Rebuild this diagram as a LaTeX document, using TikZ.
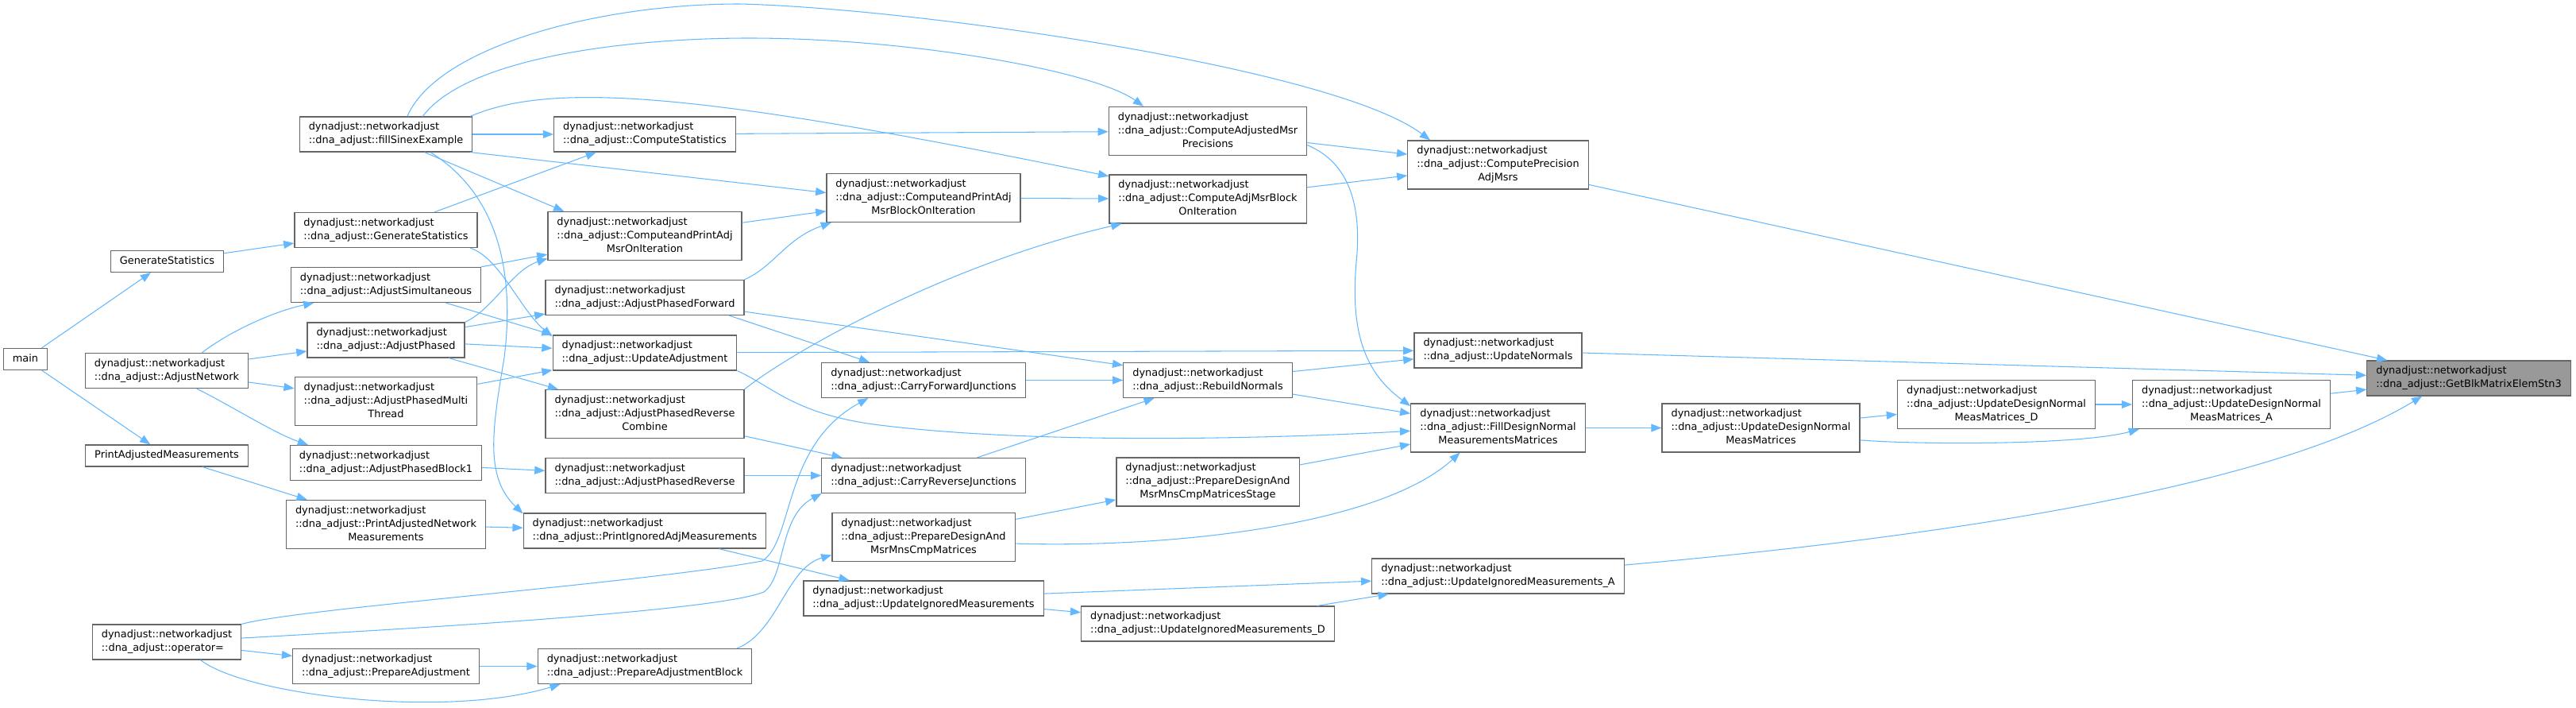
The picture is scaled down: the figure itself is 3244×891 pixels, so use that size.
\documentclass[tikz,border=0pt]{standalone}
\usepackage{fontspec}
\setmainfont{DejaVu Sans}
\usetikzlibrary{arrows.meta}
\definecolor{edgeblue}{RGB}{99,184,255}
\definecolor{boxgray}{RGB}{102,102,102}
\definecolor{maingray}{RGB}{153,153,153}
\newcommand{\fn}[1]{\begin{tabular}{@{}l@{}}#1\end{tabular}}
\newcommand{\lc}[1]{\multicolumn{1}{@{}c@{}}{#1}}
\newcommand{\dn}{dynadjust::networkadjust\\::dna\_adjust::}

\begin{document}
\begin{tikzpicture}[x=0.02cm, y=-0.02cm,
  fnbox/.style={draw=boxgray, fill=white, line width=0.7pt, inner xsep=0.23cm, inner ysep=0.1cm, font=\fontsize{7.35}{9.67}\selectfont},
  fnmain/.style={fnbox, fill=maingray},
  callarrow/.style={draw=edgeblue, line width=0.6pt, -{Triangle[length=7.5pt, width=5.7pt]}}
]
  \useasboundingbox (0,0) rectangle (3244,891);

  % callers, left to right
  \node[fnbox] (main) at (32,452) {\fn{main}};
  \node[fnbox] (genstat) at (210.5,329) {\fn{GenerateStatistics}};
  \node[fnbox] (adjnet) at (210,466.5) {\fn{\dn AdjustNetwork}};
  \node[fnbox] (printadj) at (210,573.5) {\fn{PrintAdjustedMeasurements}};
  \node[fnbox] (opeq) at (210,808) {\fn{\dn operator=}};

  \node[fnbox] (fillsinex) at (486,169) {\fn{\dn fillSinexExample}};
  \node[fnbox] (dnagenstat) at (486,289.5) {\fn{\dn GenerateStatistics}};
  \node[fnbox] (adjsim) at (486,358.5) {\fn{\dn AdjustSimultaneous}};
  \node[fnbox] (adjphased) at (486,428) {\fn{\dn AdjustPhased}};
  \node[fnbox] (adjmulti) at (486,505) {\fn{\dn AdjustPhasedMulti\\\lc{Thread}}};
  \node[fnbox] (adjblock1) at (486,582.5) {\fn{\dn AdjustPhasedBlock1}};
  \node[fnbox] (printnet) at (486,660) {\fn{\dn PrintAdjustedNetwork\\\lc{Measurements}}};
  \node[fnbox] (prepadj) at (486,838.5) {\fn{\dn PrepareAdjustment}};

  \node[fnbox] (compstat) at (812,169) {\fn{\dn ComputeStatistics}};
  \node[fnbox] (cpamoi) at (812,297) {\fn{\dn ComputeandPrintAdj\\\lc{MsrOnIteration}}};
  \node[fnbox] (adjfwd) at (812,374.5) {\fn{\dn AdjustPhasedForward}};
  \node[fnbox] (updadj) at (812,444) {\fn{\dn UpdateAdjustment}};
  \node[fnbox] (adjrevcomb) at (812,521) {\fn{\dn AdjustPhasedReverse\\\lc{Combine}}};
  \node[fnbox] (adjrev) at (812,598.5) {\fn{\dn AdjustPhasedReverse}};
  \node[fnbox] (printign) at (812,668) {\fn{\dn PrintIgnoredAdjMeasurements}};
  \node[fnbox] (prepblock) at (812,838.5) {\fn{\dn PrepareAdjustmentBlock}};

  \node[fnbox] (cpambi) at (1163,249) {\fn{\dn ComputeandPrintAdj\\\lc{MsrBlockOnIteration}}};
  \node[fnbox] (carryfwd) at (1163,478.5) {\fn{\dn CarryForwardJunctions}};
  \node[fnbox] (carryrev) at (1163,598.5) {\fn{\dn CarryReverseJunctions}};
  \node[fnbox] (prepdesign) at (1163,676) {\fn{\dn PrepareDesignAnd\\\lc{MsrMnsCmpMatrices}}};
  \node[fnbox] (updign) at (1163,753) {\fn{\dn UpdateIgnoredMeasurements}};

  \node[fnbox] (compadjprec) at (1521,165) {\fn{\dn ComputeAdjustedMsr\\\lc{Precisions}}};
  \node[fnbox] (compadjblk) at (1521,250.5) {\fn{\dn ComputeAdjMsrBlock\\\lc{OnIteration}}};
  \node[fnbox] (rebuild) at (1521,478.5) {\fn{\dn RebuildNormals}};
  \node[fnbox] (prepstage) at (1521,606.5) {\fn{\dn PrepareDesignAnd\\\lc{MsrMnsCmpMatricesStage}}};
  \node[fnbox] (updignD) at (1521,785) {\fn{\dn UpdateIgnoredMeasurements\_D}};

  \node[fnbox] (compprec) at (1886.5,207.5) {\fn{\dn ComputePrecision\\\lc{AdjMsrs}}};
  \node[fnbox] (updnorm) at (1886.5,441) {\fn{\dn UpdateNormals}};
  \node[fnbox] (filldesign) at (1886.5,538.5) {\fn{\dn FillDesignNormal\\\lc{MeasurementsMatrices}}};
  \node[fnbox] (updignA) at (1886.5,725) {\fn{\dn UpdateIgnoredMeasurements\_A}};

  \node[fnbox] (upddesign) at (2217.5,538.5) {\fn{\dn UpdateDesignNormal\\\lc{MeasMatrices}}};
  \node[fnbox] (upddesignD) at (2514,509) {\fn{\dn UpdateDesignNormal\\\lc{MeasMatrices\_D}}};
  \node[fnbox] (upddesignA) at (2810,509) {\fn{\dn UpdateDesignNormal\\\lc{MeasMatrices\_A}}};
  \node[fnmain] (getblk) at (3109,476) {\fn{\dn GetBlkMatrixElemStn3}};

  % calls
  \draw[callarrow] (main) -- (genstat);
  \draw[callarrow] (main) -- (printadj);
  \draw[callarrow] (genstat) -- (dnagenstat);
  \draw[callarrow] (adjnet.27) .. controls (285,420) and (340,393) .. (adjsim.194);
  \draw[callarrow] (adjnet.8) -- (adjphased.188);
  \draw[callarrow] (adjnet.352) -- (adjmulti.172);
  \draw[callarrow] (adjnet.329) .. controls (290,510) and (345,545) .. (adjblock1.167);
  \draw[callarrow] (printadj) -- (printnet);
  \draw[callarrow] (opeq) -- (prepadj);
  \draw[callarrow] (opeq.332) .. controls (310,875) and (560,905) .. (prepblock.192);
  \draw[callarrow] (opeq.north east) .. controls (380,765) and (800,735) .. (960,706) .. controls (1000,680) and (985,560) .. (carryfwd.198);
  \draw[callarrow] (opeq.3) .. controls (500,792) and (900,770) .. (962,745) .. controls (990,725) and (980,650) .. (carryrev.190);

  \draw[callarrow] (fillsinex) -- (compstat);
  \draw[callarrow] (fillsinex.40) .. controls (550,60) and (750,5) .. (931,5) .. controls (1150,10) and (1680,85) .. (compprec.160);
  \draw[callarrow] (fillsinex.26) .. controls (590,70) and (800,48) .. (943,48) .. controls (1150,48) and (1380,90) .. (compadjprec.159);
  \draw[callarrow] (fillsinex.12) .. controls (700,100) and (900,120) .. (compadjblk.167);
  \draw[callarrow] (fillsinex.335) -- (cpamoi.163);
  \draw[callarrow] (fillsinex.348) -- (cpambi.177);
  \draw[callarrow] (fillsinex.338) .. controls (620,240) and (650,330) .. (635,450) .. controls (620,540) and (610,600) .. (printign.172);
  \draw[callarrow] (dnagenstat) -- (compstat);
  \draw[callarrow] (dnagenstat.348) .. controls (630,325) and (655,390) .. (updadj.170);
  \draw[callarrow] (adjsim) -- (cpamoi);
  \draw[callarrow] (adjsim) -- (updadj.north west);
  \draw[callarrow] (adjphased.north east) .. controls (620,390) and (645,340) .. (cpamoi.193);
  \draw[callarrow] (adjphased) -- (adjfwd);
  \draw[callarrow] (adjphased) -- (updadj);
  \draw[callarrow] (adjphased) -- (adjrevcomb);
  \draw[callarrow] (adjmulti) -- (updadj);
  \draw[callarrow] (adjblock1) -- (adjrev);
  \draw[callarrow] (printnet) -- (printign);
  \draw[callarrow] (prepadj) -- (prepblock);

  \draw[callarrow] (cpamoi) -- (cpambi);
  \draw[callarrow] (adjfwd.north east) .. controls (975,335) and (990,300) .. (cpambi.195);
  \draw[callarrow] (adjfwd.348) -- (carryfwd);
  \draw[callarrow] (adjfwd.352) -- (rebuild.170);
  \draw[callarrow] (updadj) -- (updnorm);
  \draw[callarrow] (updadj.south east) .. controls (975,488) and (1000,520) .. (1100,534) .. controls (1300,560) and (1600,552) .. (filldesign.182);
  \draw[callarrow] (adjrevcomb) -- (carryrev);
  \draw[callarrow] (adjrevcomb.north east) .. controls (1000,440) and (1200,330) .. (compadjblk.196);
  \draw[callarrow] (adjrev) -- (carryrev);
  \draw[callarrow] (printign) -- (updign);
  \draw[callarrow] (prepblock.11) .. controls (980,795) and (990,715) .. (prepdesign.191);
  \draw[callarrow] (compstat) -- (compadjprec);

  \draw[callarrow] (cpambi) -- (compadjblk);
  \draw[callarrow] (carryfwd) -- (rebuild);
  \draw[callarrow] (carryrev) -- (rebuild);
  \draw[callarrow] (prepdesign) -- (prepstage);
  \draw[callarrow] (prepdesign.356) .. controls (1480,690) and (1740,660) .. (filldesign.213);
  \draw[callarrow] (updign) -- (updignA);
  \draw[callarrow] (updign) -- (updignD);

  \draw[callarrow] (compadjprec) -- (compprec);
  \draw[callarrow] (compadjblk) -- (compprec);
  \draw[callarrow] (compadjprec.352) .. controls (1700,205) and (1715,260) .. (1708,330) .. controls (1700,420) and (1720,470) .. (filldesign.166);
  \draw[callarrow] (rebuild) -- (updnorm);
  \draw[callarrow] (rebuild) -- (filldesign);
  \draw[callarrow] (prepstage) -- (filldesign);
  \draw[callarrow] (updignD) -- (updignA);

  \draw[callarrow] (compprec) -- (getblk);
  \draw[callarrow] (updnorm) -- (getblk);
  \draw[callarrow] (filldesign) -- (upddesign);
  \draw[callarrow] (updignA.5) .. controls (2400,680) and (2850,620) .. (getblk.201);
  \draw[callarrow] (upddesign) -- (upddesignD);
  \draw[callarrow] (upddesign.353) .. controls (2420,560) and (2620,560) .. (upddesignA.195);
  \draw[callarrow] (upddesignD) -- (upddesignA);
  \draw[callarrow] (upddesignA) -- (getblk);
\end{tikzpicture}
\end{document}
